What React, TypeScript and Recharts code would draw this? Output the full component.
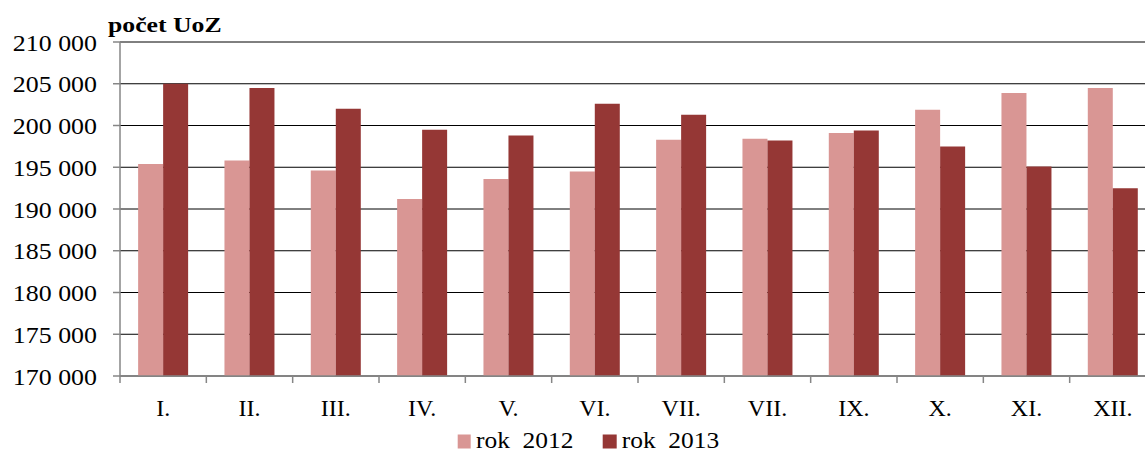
import { BarChart, Bar, XAxis, YAxis, CartesianGrid } from 'recharts'

const months = ['I.', 'II.', 'III.', 'IV.', 'V.', 'VI.', 'VII.', 'VII.', 'IX.', 'X.', 'XI.', 'XII.']
const rok2012 = [195400, 195800, 194600, 191200, 193600, 194500, 198300, 198400, 199100, 201900, 203900, 204500]
const rok2013 = [205000, 204500, 202000, 199500, 198800, 202600, 201300, 198200, 199400, 197500, 195100, 192500]
const yTicks = [170000, 175000, 180000, 185000, 190000, 195000, 200000, 205000, 210000]

const data = months.map((m, i) => ({ m, r2012: rok2012[i], r2013: rok2013[i] }))

const FONT = 'Liberation Serif'
const AXIS = '#868686'
const PLOT_LEFT = 120
const PLOT_RIGHT = 1156
const PLOT_BOTTOM = 376
const HALF_BAND = (PLOT_RIGHT - PLOT_LEFT) / months.length / 2

const fmt = (v: number) => String(v).replace(/(\d)(?=(\d{3})+$)/g, '$1\u00a0')

function YTick({ y, payload }: any) {
  return (
    <g transform={`translate(97,${y + 8.5}) scale(1.08,1)`}>
      <text x={0} y={0} textAnchor="end" fontFamily={FONT} fontSize={24} fill="#000">
        {fmt(payload.value)}
      </text>
    </g>
  )
}

function XTick({ x, payload, index }: any) {
  const last = index === months.length - 1
  return (
    <g>
      <line x1={x - HALF_BAND} x2={x - HALF_BAND} y1={PLOT_BOTTOM} y2={PLOT_BOTTOM + 7} stroke={AXIS} strokeWidth={1.5} />
      {last && <line x1={x + HALF_BAND} x2={x + HALF_BAND} y1={PLOT_BOTTOM} y2={PLOT_BOTTOM + 7} stroke={AXIS} strokeWidth={1.5} />}
      <text x={x} y={416} textAnchor="middle" fontFamily={FONT} fontSize={24} fill="#000">
        {payload.value}
      </text>
    </g>
  )
}

export default function App() {
  return (
    <div style={{ position: 'absolute', left: 0, top: 0, width: 1145, height: 453, overflow: 'hidden', background: '#fff' }}>
      <BarChart width={1160} height={453} data={data} barCategoryGap="21%" barGap={0}
        margin={{ top: 42, right: 4, left: 0, bottom: 0 }}>
        <CartesianGrid vertical={false} stroke="#000" strokeWidth={1} />
        <XAxis dataKey="m" height={77} tickLine={false} axisLine={{ stroke: AXIS, strokeWidth: 1.5 }}
          tick={<XTick />} interval={0} />
        <YAxis width={120} domain={[170000, 210000]} ticks={yTicks} interval={0} tickSize={7}
          axisLine={{ stroke: AXIS, strokeWidth: 1.5 }} tickLine={{ stroke: AXIS, strokeWidth: 1.5 }}
          tick={<YTick />} allowDataOverflow />
        <Bar dataKey="r2012" name="rok 2012" fill="#D99694" isAnimationActive={false} />
        <Bar dataKey="r2013" name="rok 2013" fill="#953735" isAnimationActive={false} />
      </BarChart>
      <svg width={1145} height={453} style={{ position: 'absolute', left: 0, top: 0, pointerEvents: 'none' }}>
        <g transform="translate(108,31.7) scale(1.17,1)">
          <text x={0} y={0} fontFamily={FONT} fontSize={22} fontWeight="bold" fill="#000">počet UoZ</text>
        </g>
        <rect x={457.7} y={434.5} width={13} height={14} fill="#D99694" />
        <g transform="translate(476,448) scale(1.06,1)">
          <text x={0} y={0} fontFamily={FONT} fontSize={24} fill="#000">{'rok\u00a0 2012'}</text>
        </g>
        <rect x={602.7} y={434.5} width={14} height={14} fill="#953735" />
        <g transform="translate(621.7,448) scale(1.06,1)">
          <text x={0} y={0} fontFamily={FONT} fontSize={24} fill="#000">{'rok\u00a0 2013'}</text>
        </g>
      </svg>
    </div>
  )
}
